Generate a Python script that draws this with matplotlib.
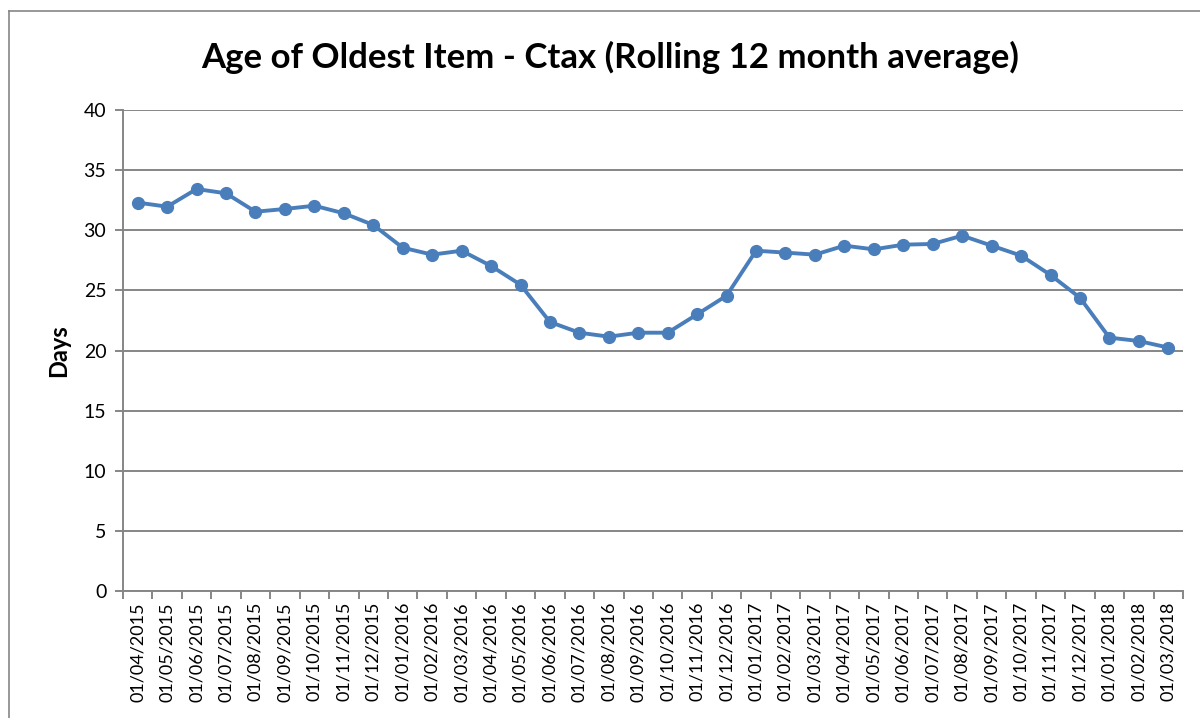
import numpy as np
import matplotlib.pyplot as plt
from matplotlib.lines import Line2D

plt.rcParams['font.family'] = ['Lato', 'DejaVu Sans']

# monthly dates, first of each month
months = ['01/04/2015', '01/05/2015', '01/06/2015', '01/07/2015', '01/08/2015', '01/09/2015',
          '01/10/2015', '01/11/2015', '01/12/2015', '01/01/2016', '01/02/2016', '01/03/2016',
          '01/04/2016', '01/05/2016', '01/06/2016', '01/07/2016', '01/08/2016', '01/09/2016',
          '01/10/2016', '01/11/2016', '01/12/2016', '01/01/2017', '01/02/2017', '01/03/2017',
          '01/04/2017', '01/05/2017', '01/06/2017', '01/07/2017', '01/08/2017', '01/09/2017',
          '01/10/2017', '01/11/2017', '01/12/2017', '01/01/2018', '01/02/2018', '01/03/2018']

# rolling 12 month average age of oldest item (days)
days = [32.3, 31.96, 33.43, 33.07, 31.54, 31.77, 32.04, 31.41, 30.44, 28.55, 27.97, 28.3,
        27.03, 25.47, 22.37, 21.48, 21.15, 21.48, 21.48, 23.01, 24.56, 28.3, 28.14, 27.97,
        28.72, 28.41, 28.8, 28.86, 29.55, 28.72, 27.89, 26.28, 24.39, 21.07, 20.79, 20.24]

yticks = [0, 5, 10, 15, 20, 25, 30, 35, 40]

grey = '#868686'
blue = '#4a7ebb'

fig = plt.figure(figsize=(12, 7.18), dpi=100)
ax = fig.add_axes([123/1200, 1 - 591/718, 1060/1200, 481/718])

x = np.arange(len(months))
ax.plot(x, days, '-o', color=blue, lw=2.8, markersize=8.5, zorder=3)

ax.set_xlim(-0.5, len(months) - 0.5)
ax.set_ylim(0, 40)
ax.set_yticks(yticks)
ax.yaxis.grid(True, color=grey, lw=1.4)
ax.set_axisbelow(True)

# category boundaries carry the tick marks, centres carry the labels
ax.set_xticks(np.arange(-0.5, len(months)), labels=[])
ax.set_xticks(x, labels=months, minor=True, rotation=90)
ax.tick_params(axis='x', which='major', length=6, width=1.4, color=grey, direction='out')
ax.tick_params(axis='x', which='minor', length=0, pad=8, labelsize=13)
ax.tick_params(axis='y', length=6, width=1.4, color=grey, labelsize=14, pad=6)

for s in ['top', 'right']:
    ax.spines[s].set_visible(False)
for s in ['left', 'bottom']:
    ax.spines[s].set_color(grey)
    ax.spines[s].set_linewidth(1.4)

ax.set_ylabel('Days', fontsize=17, fontweight='bold', labelpad=10)

fig.text(610/1200, 1 - 57/718, 'Age of Oldest Item - Ctax (Rolling 12 month average)',
         ha='center', va='center', fontsize=25, fontweight='bold')

# outer chart border (only top and left visible in the crop)
fig.add_artist(Line2D([9/1200, 9/1200], [0, 1 - 11/718], transform=fig.transFigure, color=grey, lw=1.2))
fig.add_artist(Line2D([9/1200, 1], [1 - 11/718, 1 - 11/718], transform=fig.transFigure, color=grey, lw=1.2))

fig.savefig('out.png', dpi=100)
